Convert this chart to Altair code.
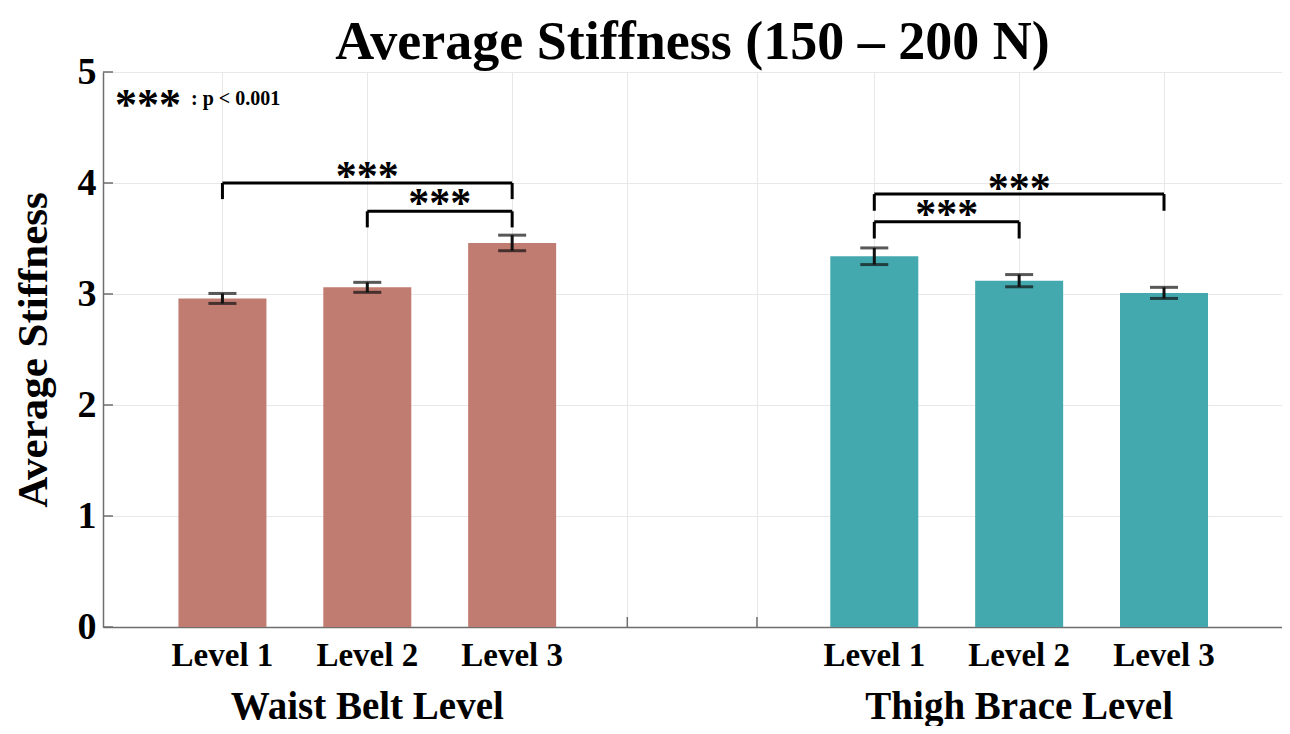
import altair as alt
import pandas as pd

# ---- data ----
levels = ["Level 1", "Level 2", "Level 3"]
waist_x = [1, 2, 3]
thigh_x = [5.5, 6.5, 7.5]
waist_means = [2.96, 3.06, 3.46]
waist_err = [0.045, 0.045, 0.07]
thigh_means = [3.34, 3.12, 3.01]
thigh_err = [0.075, 0.055, 0.05]
groups = ["Waist Belt Level", "Thigh Brace Level"]
group_x = [2, 6.5]
grid_x = [1, 2, 3, 3.795, 4.69, 5.5, 6.5, 7.5]
y_ticks = [0, 1, 2, 3, 4, 5]

# significance brackets: x1, x2, bar height, leg bottom
br_x1 = [1, 2, 5.5, 5.5]
br_x2 = [3, 3, 7.5, 6.5]
br_top = [4.0, 3.745, 3.9, 3.65]
br_leg = [3.855, 3.6, 3.75, 3.5]
star_x = [2, 2.5, 6.5, 6.0]
star_y = [4.11, 3.865, 4.0, 3.77]

FONT = "Liberation Serif"
W, H = 1179, 555
XDOM = [0.21, 8.28]
c_waist = "#C17C72"
c_thigh = "#44A9AF"

bars = pd.DataFrame({
    "x": waist_x + thigh_x,
    "mean": waist_means + thigh_means,
    "err": waist_err + thigh_err,
    "group": ["waist"] * 3 + ["thigh"] * 3,
    "label": levels + levels,
})
bars["lo"] = bars["mean"] - bars["err"]
bars["hi"] = bars["mean"] + bars["err"]

segs = []
for a, b, t, l in zip(br_x1, br_x2, br_top, br_leg):
    segs.append({"x": a, "x2": b, "y": t, "y2": t})
    segs.append({"x": a, "x2": a, "y": l, "y2": t})
    segs.append({"x": b, "x2": b, "y": l, "y2": t})
segs = pd.DataFrame(segs)
stars = pd.DataFrame({"x": star_x, "y": star_y, "t": ["***"] * 4})
gx = pd.DataFrame({"x": grid_x})
gy = pd.DataFrame({"y": y_ticks})
grp = pd.DataFrame({"x": group_x, "g": groups})

xs = alt.Scale(domain=XDOM, nice=False, zero=False)
ys = alt.Scale(domain=[0, 5], nice=False)

base = alt.Chart(bars)

xt = alt.Chart(gx).mark_rule(color="#6e6e6e", strokeWidth=1.5).encode(
    x=alt.X("x:Q", scale=xs,
            axis=alt.Axis(values=grid_x, labels=False, ticks=False, title=None,
                          grid=True, gridColor="#e8e8e8", gridWidth=1,
                          domainColor="#6e6e6e", domainWidth=1.5)),
    y=alt.value(H), y2=alt.value(H - 10))
yt = alt.Chart(gy).mark_rule(color="#6e6e6e", strokeWidth=1.5).encode(
    y=alt.Y("y:Q", scale=ys,
            axis=alt.Axis(values=y_ticks, format="d", title="Average Stiffness",
                          titleFont=FONT, titleFontSize=43, titleFontWeight="bold",
                          titleColor="black", titleX=-70, titleY=H / 2,
                          titleAngle=-90, titleBaseline="middle", titleAlign="center",
                          labelFont=FONT, labelFontSize=38, labelFontWeight="bold",
                          labelColor="black", labelPadding=7, ticks=False,
                          grid=True, gridColor="#e8e8e8", gridWidth=1,
                          domainColor="#6e6e6e", domainWidth=1.5)),
    x=alt.value(0), x2=alt.value(10))

bar = base.mark_bar(size=88).encode(
    x="x:Q",
    y="mean:Q",
    color=alt.Color("group:N", scale=alt.Scale(domain=["waist", "thigh"],
                                               range=[c_waist, c_thigh]), legend=None),
)

ebar = base.mark_rule(color="#111", strokeWidth=3).encode(
    x="x:Q", y="lo:Q", y2="hi:Q")
cap_lo = base.mark_tick(color="#111", thickness=3, size=28, orient="horizontal").encode(
    x="x:Q", y="lo:Q")
cap_hi = base.mark_tick(color="#111", thickness=3, size=28, orient="horizontal").encode(
    x="x:Q", y="hi:Q")

brk = alt.Chart(segs).mark_rule(color="black", strokeWidth=3).encode(
    x="x:Q", x2="x2:Q", y="y:Q", y2="y2:Q")
star_txt = alt.Chart(stars).mark_text(font=FONT, fontSize=42, fontWeight="bold",
                                      baseline="alphabetic", dy=19, color="black").encode(
    x="x:Q", y="y:Q", text="t:N")

lvl = base.mark_text(font=FONT, fontSize=33, fontWeight="bold", color="black",
                     baseline="middle").encode(
    x="x:Q", y=alt.value(H + 29), text="label:N")
grp_txt = alt.Chart(grp).mark_text(font=FONT, fontSize=39, fontWeight="bold",
                                   color="black", baseline="middle").encode(
    x="x:Q", y=alt.value(H + 80), text="g:N")

leg_star = alt.Chart(pd.DataFrame({"t": ["***"]})).mark_text(
    font=FONT, fontSize=44, fontWeight="bold", baseline="alphabetic", dy=20,
    color="black").encode(x=alt.value(45), y=alt.value(27), text="t:N")
leg_txt = alt.Chart(pd.DataFrame({"t": [": p < 0.001"]})).mark_text(
    font=FONT, fontSize=20, fontWeight="bold", align="left", baseline="alphabetic",
    color="black").encode(x=alt.value(88), y=alt.value(33), text="t:N")

chart = alt.layer(xt, yt, bar, ebar, cap_lo, cap_hi, brk, star_txt, lvl, grp_txt,
                  leg_star, leg_txt).properties(
    width=W, height=H,
    title=alt.TitleParams("Average Stiffness (150 – 200 N)", font=FONT, fontSize=54,
                          fontWeight="bold", color="black", anchor="middle",
                          frame="group", offset=-17),
    autosize=alt.AutoSizeParams(type="none"),
    padding={"left": 95, "top": 64, "right": 0, "bottom": 99},
).configure_view(stroke="#e0e0e0", strokeWidth=1.5).configure(background="white")

chart.save("out.html", embed_options={"renderer": "svg", "actions": False})
